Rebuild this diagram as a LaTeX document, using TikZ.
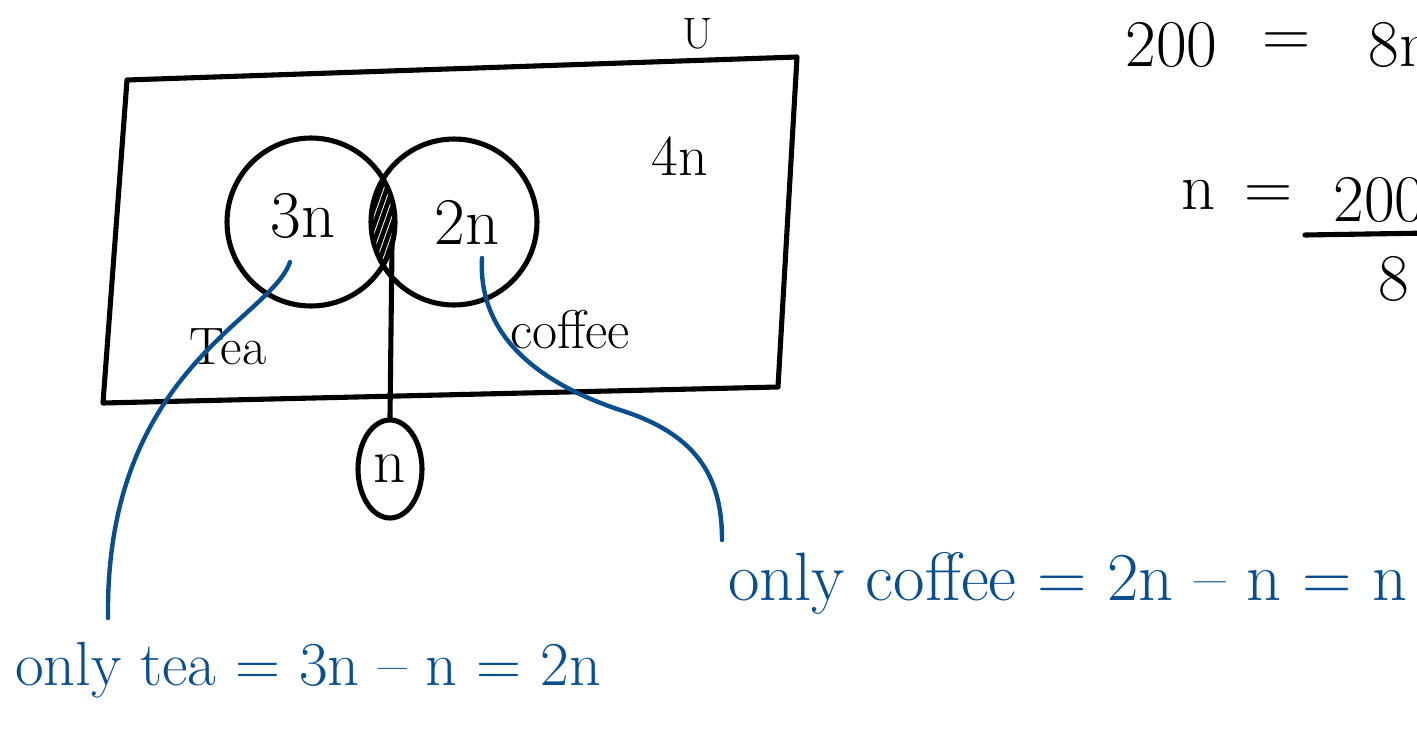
\documentclass[tikz,border=0pt]{standalone}
\usetikzlibrary{shapes.geometric}
\definecolor{inkblue}{RGB}{10,78,140}
\tikzset{
  ink/.style={line width=2.9pt, black, line cap=round, line join=round},
  blueink/.style={line width=2.5pt, inkblue, line cap=round},
  hw/.style={inner sep=0pt, font=\fontsize{#1}{#1}\selectfont},
  bluetext/.style={text=inkblue},
}
\begin{document}
\begin{tikzpicture}[x=0.02cm, y=-0.02cm]
\useasboundingbox (0,0) rectangle (1417,744);
\clip (0,0) rectangle (1417,744);
\fill[white] (0,0) rectangle (1417,744);

% universe rectangle
\draw[ink] (127,80) -- (797,57) -- (778,387) -- (103,403) -- cycle;
\node[hw=25] (U) at (698,34) {U};
\node[hw=33] (fourn) at (680,156) {4n};

% hatched intersection
\begin{scope}
  \clip (311,222) circle[radius=84];
  \clip (454,222) circle[radius=83];
  \foreach \k in {290,296,...,430} \draw[line width=2.6pt] (\k,310) -- (\k+60,140);
\end{scope}

% circles
\node[draw, ink, circle, minimum size=3.36cm] (tea) at (311,222) {};
\node[draw, ink, circle, minimum size=3.32cm] (coffee) at (454,222) {};
\node[hw=38] (threen) at (303,216) {3n};
\node[hw=38] (twon) at (467,222) {2n};
\node[hw=30] (tealbl) at (228,347) {Tea};
\node[hw=31] (coffeelbl) at (570,330) {coffee};

% intersection count
\coordinate (lens) at (392,245);
\node[draw, ink, ellipse, minimum width=1.28cm, minimum height=1.96cm, hw=36] (nnode) at (390,469) {n};
\draw[ink] (lens) -- (nnode.north);

% blue annotations
\node[hw=35.5, bluetext, anchor=base west] (onlytea) at (15,685) {only tea = 3n -- n = 2n};
\node[hw=39, bluetext, anchor=base west] (onlycoffee) at (728,600) {only coffee = 2n -- n = n};
\coordinate (a1) at (290,262);
\coordinate (a2) at (108,618);
\draw[blueink] (a1) .. controls (270,320) and (105,370) .. (a2);
\coordinate (b1) at (482,258);
\coordinate (bm) at (620,410);
\coordinate (b2) at (722,540);
\draw[blueink] (b1) .. controls (478,330) and (530,380) .. (bm) .. controls (700,435) and (722,480) .. (b2);

% equations on the right
\node[hw=38, anchor=west] (eqa) at (1125,45) {200};
\node[hw=38] (eqb) at (1287,45) {=};
\node[hw=38, anchor=west] (eqc) at (1368,45) {8n};
\node[hw=38] (nn) at (1199,195) {n};
\node[hw=38] (eqd) at (1269,198) {=};
\node[hw=38, anchor=west] (num) at (1333,200) {200};
\coordinate (barl) at (1305,235);
\coordinate (barr) at (1430,233);
\draw[ink] (barl) -- (barr);
\node[hw=38] (den) at (1394,279) {8};
\end{tikzpicture}
\end{document}
